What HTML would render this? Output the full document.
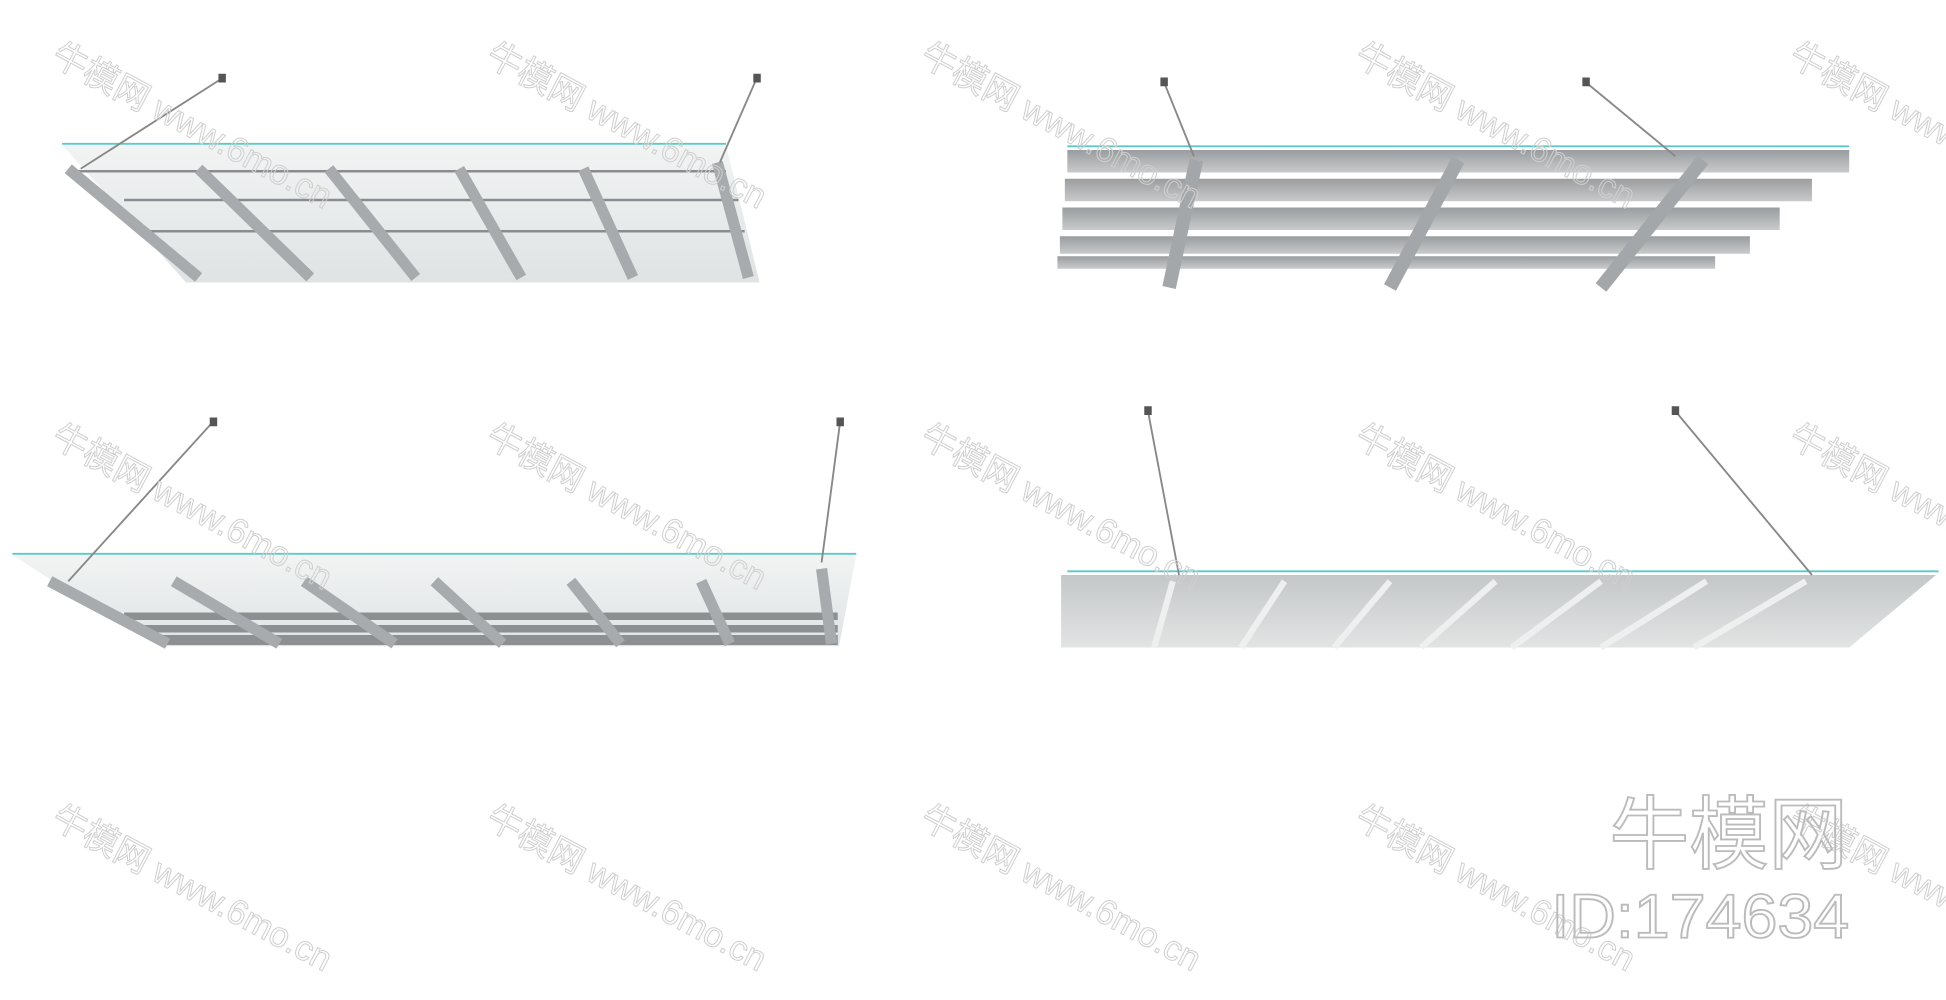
<!DOCTYPE html>
<html><head><meta charset="utf-8"><style>
html,body{margin:0;padding:0;background:#fff;}
svg{display:block}
.wm{font-family:"Liberation Sans","Noto Sans CJK SC",sans-serif;font-size:28px;fill:none;stroke:#cfcfcf;stroke-width:0.8}
</style></head><body>
<svg width="1946" height="1000" viewBox="0 0 1568 800" preserveAspectRatio="none" xmlns="http://www.w3.org/2000/svg">
<defs>
<linearGradient id="g1" x1="0" y1="0" x2="0" y2="1"><stop offset="0" stop-color="#f2f4f4"/><stop offset="1" stop-color="#dfe3e3"/></linearGradient>
<linearGradient id="g2" x1="0" y1="0" x2="0" y2="1"><stop offset="0" stop-color="#9a9d9f"/><stop offset="1" stop-color="#c8cacb"/></linearGradient>
<linearGradient id="g3" x1="0" y1="0" x2="0" y2="1"><stop offset="0" stop-color="#c4c7c8"/><stop offset="1" stop-color="#e2e4e4"/></linearGradient>
</defs>
<!-- TL -->
<polygon points="50,116 585,116 612,226 150,226" fill="url(#g1)"/>
<line x1="50" y1="115" x2="585" y2="115" stroke="#5cc8c8" stroke-width="1.5"/>
<g stroke="#8a8d8f" stroke-width="2"><line x1="60" y1="137" x2="585" y2="137"/><line x1="100" y1="160" x2="595" y2="160"/><line x1="120" y1="185" x2="600" y2="185"/></g>
<g stroke="#a8abad" stroke-width="9">
<line x1="55" y1="135" x2="160" y2="222"/><line x1="160" y1="135" x2="250" y2="222"/><line x1="265" y1="135" x2="335" y2="222"/><line x1="370" y1="135" x2="420" y2="222"/><line x1="470" y1="135" x2="510" y2="222"/><line x1="578" y1="130" x2="603" y2="222"/>
</g>
<line x1="180" y1="62" x2="65" y2="135" stroke="#888" stroke-width="1.5"/><line x1="610" y1="62" x2="580" y2="130" stroke="#888" stroke-width="1.5"/>
<rect x="176" y="59" width="6" height="7" fill="#555"/><rect x="607" y="59" width="6" height="7" fill="#555"/>
<!-- TR -->
<line x1="860" y1="117" x2="1490" y2="117" stroke="#5cc8c8" stroke-width="1.5"/>
<g fill="url(#g2)">
<rect x="860" y="120" width="630" height="18"/><rect x="858" y="143" width="602" height="18"/><rect x="856" y="166" width="578" height="18"/><rect x="854" y="189" width="556" height="14"/><rect x="852" y="205" width="530" height="10"/>
</g>
<g stroke="#a4a7a9" stroke-width="11"><line x1="964" y1="128" x2="942" y2="230"/><line x1="1175" y1="128" x2="1120" y2="230"/><line x1="1372" y1="128" x2="1290" y2="230"/></g>
<line x1="938" y1="66" x2="962" y2="125" stroke="#888" stroke-width="1.5"/><line x1="1278" y1="66" x2="1350" y2="125" stroke="#888" stroke-width="1.5"/>
<rect x="935" y="62" width="6" height="7" fill="#555"/><rect x="1275" y="62" width="6" height="7" fill="#555"/>
<!-- BL -->
<polygon points="10,444 690,444 676,517 130,517 35,460" fill="url(#g1)"/>
<line x1="10" y1="443" x2="690" y2="443" stroke="#5cc8c8" stroke-width="1.5"/>
<g fill="#8d9092"><rect x="100" y="490" width="575" height="6"/><rect x="115" y="500" width="560" height="6"/><rect x="130" y="508" width="545" height="8"/></g>
<g stroke="#a8abad" stroke-width="9">
<line x1="40" y1="465" x2="135" y2="515"/><line x1="140" y1="465" x2="225" y2="515"/><line x1="245" y1="465" x2="318" y2="515"/><line x1="350" y1="465" x2="405" y2="515"/><line x1="460" y1="465" x2="500" y2="515"/><line x1="565" y1="465" x2="588" y2="515"/><line x1="662" y1="455" x2="670" y2="515"/>
</g>
<line x1="172" y1="337" x2="55" y2="465" stroke="#888" stroke-width="1.5"/><line x1="677" y1="337" x2="662" y2="450" stroke="#888" stroke-width="1.5"/>
<rect x="169" y="334" width="6" height="7" fill="#555"/><rect x="674" y="334" width="6" height="7" fill="#555"/>
<!-- BR -->
<polygon points="855,460 1560,460 1490,518 855,518" fill="url(#g3)"/>
<line x1="860" y1="457" x2="1562" y2="457" stroke="#5cc8c8" stroke-width="1.5"/>
<g stroke="#eef0f0" stroke-width="5"><line x1="945" y1="465" x2="930" y2="518"/><line x1="1035" y1="465" x2="1000" y2="518"/><line x1="1120" y1="465" x2="1075" y2="518"/><line x1="1205" y1="465" x2="1145" y2="518"/><line x1="1290" y1="465" x2="1218" y2="518"/><line x1="1375" y1="465" x2="1290" y2="518"/><line x1="1455" y1="465" x2="1365" y2="518"/></g>
<line x1="925" y1="329" x2="950" y2="460" stroke="#888" stroke-width="1.5"/><line x1="1350" y1="329" x2="1460" y2="460" stroke="#888" stroke-width="1.5"/>
<rect x="922" y="325" width="6" height="7" fill="#555"/><rect x="1347" y="325" width="6" height="7" fill="#555"/>
<!-- watermarks -->
<g class="wm">
<text transform="translate(40,50) rotate(28)">牛模网 www.6mo.cn</text>
<text transform="translate(390,50) rotate(28)">牛模网 www.6mo.cn</text>
<text transform="translate(740,50) rotate(28)">牛模网 www.6mo.cn</text>
<text transform="translate(1090,50) rotate(28)">牛模网 www.6mo.cn</text>
<text transform="translate(1440,50) rotate(28)">牛模网 www.6mo.cn</text>
<text transform="translate(40,355) rotate(28)">牛模网 www.6mo.cn</text>
<text transform="translate(390,355) rotate(28)">牛模网 www.6mo.cn</text>
<text transform="translate(740,355) rotate(28)">牛模网 www.6mo.cn</text>
<text transform="translate(1090,355) rotate(28)">牛模网 www.6mo.cn</text>
<text transform="translate(1440,355) rotate(28)">牛模网 www.6mo.cn</text>
<text transform="translate(40,660) rotate(28)">牛模网 www.6mo.cn</text>
<text transform="translate(390,660) rotate(28)">牛模网 www.6mo.cn</text>
<text transform="translate(740,660) rotate(28)">牛模网 www.6mo.cn</text>
<text transform="translate(1090,660) rotate(28)">牛模网 www.6mo.cn</text>
<text transform="translate(1440,660) rotate(28)">牛模网 www.6mo.cn</text>
</g>
<text x="1297" y="690" font-family="Liberation Sans,'Noto Sans CJK SC',sans-serif" font-size="64" fill="none" stroke="#bbb" stroke-width="1.5">牛模网</text>
<text x="1250" y="750" textLength="240" lengthAdjust="spacingAndGlyphs" font-family="Liberation Sans,sans-serif" font-size="50" fill="none" stroke="#bbb" stroke-width="1.5">ID:174634</text>
</svg>
</body></html>
